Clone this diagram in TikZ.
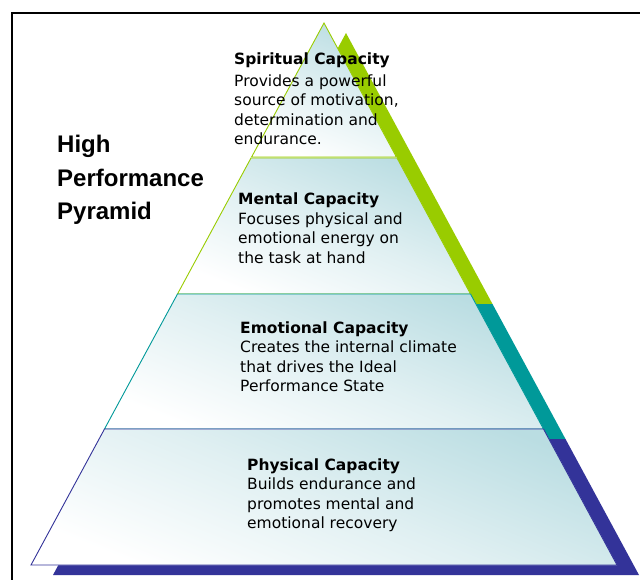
\documentclass[tikz,border=0pt]{standalone}
\usepackage{fontspec}
\newfontfamily\dvs{DejaVu Sans}
\newfontfamily\lbs{Liberation Sans}
\definecolor{pgreen}{RGB}{153,204,0}
\definecolor{pteal}{RGB}{0,153,153}
\definecolor{pblue}{RGB}{51,51,153}
\definecolor{plight}{RGB}{186,221,226}
\begin{document}
\begin{tikzpicture}[x=1pt,y=-1pt,
  blk/.style={anchor=base west, inner sep=0pt, font=\dvs\fontsize{15.5}{19.5}\selectfont},
  layerfill/.style={top color=plight, bottom color=white, middle color=plight!45!white, shading angle=-22},
  frameline/.style={line width=2pt, black}]
\useasboundingbox (0,0) rectangle (640,580);
% frame
\draw[frameline] (640,13) -- (11.5,13) -- (11.5,580);
% shadow pyramid (colour bands)
\fill[pgreen] (346,33) -- (492.5,304) -- (199.5,304) -- cycle;
\fill[pteal] (199.5,304) -- (492.5,304) -- (565.5,439) -- (126.5,439) -- cycle;
\fill[pblue] (126.5,439) -- (565.5,439) -- (639,575) -- (53,575) -- cycle;
% front pyramid
\fill[white] (324,23) -- (617,565) -- (31,565) -- cycle;
% layers
\shade[layerfill] (324,23) -- (396.4,157) -- (251.6,157) -- cycle;
\draw[pgreen, line width=0.9pt] (324,23) -- (396.4,157) -- (251.6,157) -- cycle;
\shade[layerfill] (251,158) -- (397,158) -- (470.5,294) -- (177.5,294) -- cycle;
\draw[pgreen, line width=0.9pt] (251,158) -- (397,158) -- (470.5,294) -- (177.5,294) -- cycle;
\shade[layerfill] (177.5,294) -- (470.5,294) -- (543.5,429) -- (104.5,429) -- cycle;
\draw[pteal, line width=0.9pt] (177.5,294) -- (470.5,294) -- (543.5,429) -- (104.5,429) -- cycle;
\shade[layerfill] (104.5,429) -- (543.5,429) -- (617,565) -- (31,565) -- cycle;
\draw[pblue, line width=0.9pt] (104.5,429) -- (543.5,429) -- (617,565) -- (31,565) -- cycle;
% texts
\node[blk] (spiritual) at (234,65) {\begin{tabular}[t]{@{}l@{}}\bfseries Spiritual Capacity\\[2pt]Provides a powerful\\source of motivation,\\determination and\\endurance.\end{tabular}};
\node[blk] (mental) at (238,205) {\begin{tabular}[t]{@{}l@{}}\bfseries Mental Capacity\\Focuses physical and\\emotional energy on\\the task at hand\end{tabular}};
\node[blk] (emotional) at (240,333) {\begin{tabular}[t]{@{}l@{}}\bfseries Emotional Capacity\\Creates the internal climate\\that drives the Ideal\\Performance State\end{tabular}};
\node[blk] (physical) at (247,470) {\begin{tabular}[t]{@{}l@{}}\bfseries Physical Capacity\\Builds endurance and\\promotes mental and\\emotional recovery\end{tabular}};
\node[anchor=base west, inner sep=0pt, font=\lbs\bfseries\fontsize{24}{33.5}\selectfont] (title) at (57,153) {\begin{tabular}[t]{@{}l@{}}High\\Performance\\Pyramid\end{tabular}};
\end{tikzpicture}
\end{document}
